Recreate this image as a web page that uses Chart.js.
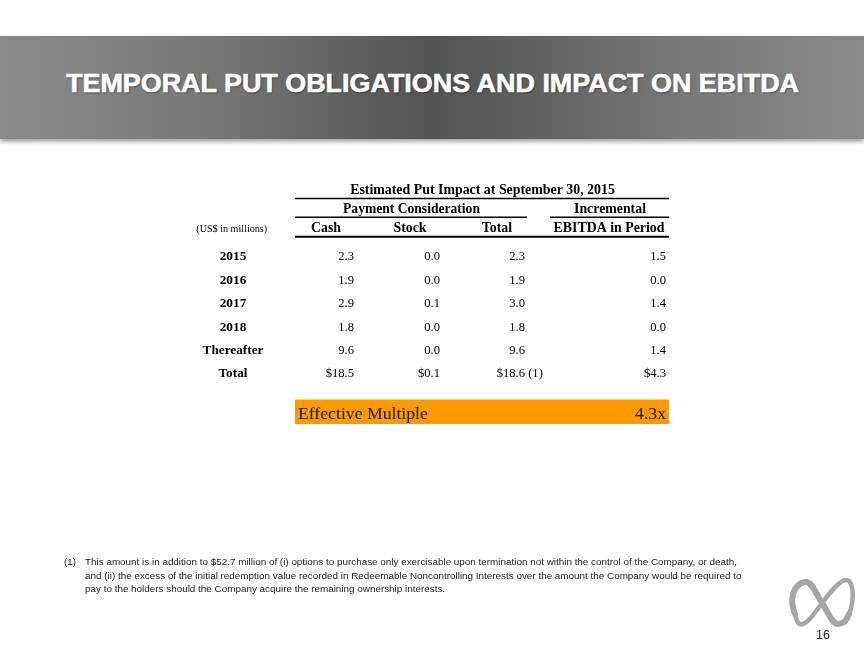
<!DOCTYPE html>
<html><head><meta charset="utf-8">
<script src="https://cdn.jsdelivr.net/npm/chart.js@4.4.0/dist/chart.umd.min.js"></script>
<style>
html,body{margin:0;padding:0;background:#fff;}
#page{position:relative;width:864px;height:648px;overflow:hidden;background:#fff;}
#banner{position:absolute;left:0;top:36px;width:864px;height:103px;
 background:linear-gradient(to right,#8a8a8a 0%,#7a7a7a 22%,#5e5e5e 42%,#535353 50%,#5f5f5f 60%,#777 78%,#8a8a8a 100%);
 box-shadow:0 3px 4px rgba(0,0,0,.35);}
#title{position:absolute;left:66px;top:70px;font:bold 26.5px 'Liberation Sans',Arial,sans-serif;
 line-height:26px;color:#fff;white-space:nowrap;transform-origin:0 0;-webkit-text-stroke:0.6px #fff;text-shadow:1px 1px 2px rgba(0,0,0,.45);}
#c{position:absolute;left:0;top:0;}
.fn{position:absolute;font-family:'Liberation Sans',Arial,sans-serif;font-size:9.4px;line-height:13px;color:#222;white-space:nowrap;}
#pn{position:absolute;left:816px;top:629px;font:12.5px 'Liberation Sans',Arial,sans-serif;line-height:12.5px;color:#222;}
#logo{position:absolute;left:786px;top:574px;}
</style></head>
<body><div id="page">
<div id="banner"></div>
<div id="title">TEMPORAL PUT OBLIGATIONS AND IMPACT ON EBITDA</div>
<canvas id="c" width="864" height="648"></canvas>
<div class="fn" style="left:64px;top:555px;">(1)</div>
<div class="fn" id="fn1" style="left:85px;top:555px;">This amount is in addition to $52.7 million of (i) options to purchase only exercisable upon termination not within the control of the Company, or death,</div>
<div class="fn" style="left:85px;top:568.5px;">and (ii) the excess of the initial redemption value recorded in Redeemable Noncontrolling Interests over the amount the Company would be required to</div>
<div class="fn" style="left:85px;top:582px;">pay to the holders should the Company acquire the remaining ownership interests.</div>
<svg id="logo" width="72" height="56" viewBox="786 574 72 56">
<g fill="none" stroke="#a6a6a6" stroke-linecap="round">
<path d="M795,614 C789,600 793,584 805,582 C812,581 816,594 822,603 C828,612 832,624 838,624 C843,624 847,620 849,614" stroke-width="6"/>
<path d="M849,614 C853,605 855,588 849,581 C843,576 832,590 822,603 C813,615 806,626 800,624 C797,623 796,619 795,614" stroke-width="4.5"/>
</g>
</svg>
<div id="pn">16</div>
</div>
<script>
// ---- data ----
const tableTitle = 'Estimated Put Impact at September 30, 2015';
const groupLabels = ['Payment Consideration', 'Incremental'];
const unitLabel = '(US$ in millions)';
const columnLabels = ['Cash', 'Stock', 'Total', 'EBITDA in Period'];
const rowLabels = ['2015', '2016', '2017', '2018', 'Thereafter', 'Total'];
const cashValues = [2.3, 1.9, 2.9, 1.8, 9.6, 18.5];
const stockValues = [0.0, 0.0, 0.1, 0.0, 0.0, 0.1];
const totalValues = [2.3, 1.9, 3.0, 1.8, 9.6, 18.6];
const ebitdaValues = [1.5, 0.0, 1.4, 0.0, 1.4, 4.3];
const totalNote = '(1)';
const multipleLabel = 'Effective Multiple';
const multipleValue = 4.3;

// fit title / footnote widths
(function(){
  const t = document.getElementById('title');
  const w = t.getBoundingClientRect().width;
  t.style.transform = 'scaleX(' + (733 / w) + ')';
  const f = document.getElementById('fn1');
  const fw = f.getBoundingClientRect().width;
  const s = 9.4 * 651 / fw;
  document.querySelectorAll('.fn').forEach(e => e.style.fontSize = s + 'px');
})();

const SERIF = "'Liberation Serif','Times New Roman',serif";
// column anchors in x-scale units (table width)
const colRight = [59, 145, 230, 371];
const colCenter = [31, 115, 202, 314];

function fitFont(ctx, text, weight, target) {
  ctx.font = weight + ' 100px ' + SERIF;
  const w = ctx.measureText(text).width;
  return weight + ' ' + (100 * target / w).toFixed(2) + 'px ' + SERIF;
}

const tablePlugin = {
  id: 'tablePlugin',
  afterDraw(chart) {
    const ctx = chart.ctx, a = chart.chartArea;
    const xs = chart.scales.x, ys = chart.scales.y;
    const X = v => xs.getPixelForValue(v);
    ctx.save();
    ctx.fillStyle = '#000';
    ctx.strokeStyle = '#000';
    ctx.textBaseline = 'alphabetic';
    const T = a.top;
    // title
    ctx.textAlign = 'center';
    ctx.font = fitFont(ctx, tableTitle, 'bold', 265);
    ctx.fillText(tableTitle, 482.5, T - 50.3);
    ctx.lineWidth = 1.6;
    ctx.beginPath(); ctx.moveTo(a.left, T - 45.8); ctx.lineTo(a.right, T - 45.8); ctx.stroke();
    // groups
    ctx.font = fitFont(ctx, groupLabels[0], 'bold', 137);
    ctx.fillText(groupLabels[0], X(116.5), T - 31.6);
    ctx.font = fitFont(ctx, groupLabels[1], 'bold', 72);
    ctx.fillText(groupLabels[1], X(315), T - 31.6);
    ctx.beginPath(); ctx.moveTo(a.left, T - 27); ctx.lineTo(X(232), T - 27); ctx.stroke();
    ctx.beginPath(); ctx.moveTo(X(255), T - 27); ctx.lineTo(a.right, T - 27); ctx.stroke();
    // column headers
    const hf = fitFont(ctx, columnLabels[3], 'bold', 111);
    columnLabels.forEach((c, i) => {
      ctx.font = hf;
      ctx.fillText(c, X(colCenter[i]), T - 12);
    });
    ctx.font = fitFont(ctx, unitLabel, 'normal', 71);
    ctx.fillText(unitLabel, 231.7, T - 12);
    ctx.lineWidth = 2;
    ctx.beginPath(); ctx.moveTo(a.left, T - 7.5); ctx.lineTo(a.right, T - 7.5); ctx.stroke();
    // rows
    const lf = fitFont(ctx, 'Thereafter', 'bold', 61);
    const vf = 'normal 12.6px ' + SERIF;
    const cols = [cashValues, stockValues, totalValues, ebitdaValues];
    rowLabels.forEach((r, i) => {
      const y = ys.getPixelForValue(i) + 4.3;
      ctx.font = lf; ctx.textAlign = 'center';
      ctx.fillText(r, 233, y);
      ctx.font = vf; ctx.textAlign = 'right';
      const last = i === rowLabels.length - 1;
      cols.forEach((arr, j) => {
        const s = (last ? '$' : '') + arr[i].toFixed(1);
        ctx.fillText(s, X(colRight[j]), y);
        if (last && j === 2) {
          ctx.textAlign = 'left';
          ctx.fillText(' ' + totalNote, X(colRight[j]), y);
          ctx.textAlign = 'right';
        }
      });
    });
    // effective multiple bar
    const B = a.bottom;
    ctx.fillStyle = '#ff9900';
    ctx.fillRect(a.left, B + 14.8, a.right - a.left, 24.5);
    ctx.fillStyle = '#1a1a1a';
    ctx.textAlign = 'left';
    ctx.font = fitFont(ctx, multipleLabel, 'normal', 130);
    ctx.fillText(multipleLabel, a.left + 3, B + 33.8);
    ctx.textAlign = 'right';
    ctx.fillText(multipleValue.toFixed(1) + 'x', a.right - 3, B + 33.8);
    ctx.restore();
  }
};

new Chart(document.getElementById('c'), {
  type: 'scatter',
  data: { datasets: [{ data: [], pointRadius: 0 }] },
  options: {
    responsive: false,
    animation: false,
    layout: { padding: { left: 295, right: 195, top: 244.3, bottom: 263.3 } },
    plugins: { legend: { display: false }, tooltip: { enabled: false } },
    scales: {
      x: { type: 'linear', min: 0, max: 374, display: false },
      y: { type: 'category', labels: rowLabels, offset: true, display: false }
    }
  },
  plugins: [tablePlugin]
});
</script>
</body></html>
